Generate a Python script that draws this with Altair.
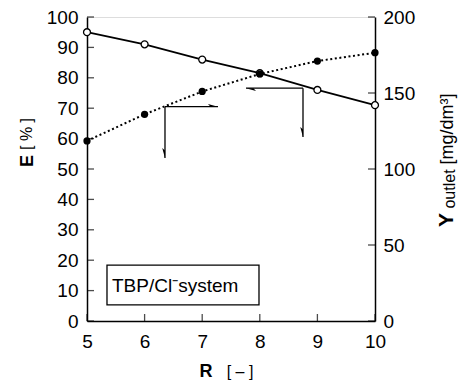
import altair as alt
import pandas as pd

# ---- data ----
R = [5, 6, 7, 8, 9, 10]
E = [95, 91, 86, 81.5, 76, 71]              # E [%], left axis, open circles
Y_out = [118.5, 136, 151, 162.5, 171, 176.5]  # Y_outlet [mg/dm3], right axis, filled circles

x_ticks = [5, 6, 7, 8, 9, 10]
left_ticks = [0, 10, 20, 30, 40, 50, 60, 70, 80, 90, 100]
right_ticks = [0, 50, 100, 150, 200]

# arrow segments (data coords on left axis)
arr_x = [6.354, 6.354, 8.75, 8.75]
arr_x2 = [7.274, 6.354, 7.76, 8.75]
arr_y = [70.5, 70.5, 76.6, 76.6]
arr_y2 = [70.5, 53.6, 76.6, 60.5]

head_x = [7.274, 6.354, 7.76, 8.75]
head_y = [70.5, 53.6, 76.6, 60.5]
head_angle = [0, 90, 180, 90]
SHAPE_A = "M0,0 L-2,-0.55 L-1.5,0 Z"
SHAPE_B = "M0,0 L-2,0.55 L-1.5,0 Z"
head_shape = [SHAPE_A, SHAPE_B, SHAPE_A, SHAPE_B]

box_x, box_x2, box_y, box_y2 = [5.347], [7.986], [5.3], [18.4]
box_label = ["TBP/Cl\u207bsystem"]
box_tx, box_ty = [5.434], [9.5]

FONT = "Liberation Sans"
W, H = 288, 304

df = pd.DataFrame({"R": R, "E": E, "Y": Y_out})
arrows = pd.DataFrame({"x": arr_x, "x2": arr_x2, "y": arr_y, "y2": arr_y2})
heads = pd.DataFrame({"x": head_x, "y": head_y, "a": head_angle, "s": head_shape})
box = pd.DataFrame({"x": box_x, "x2": box_x2, "y": box_y, "y2": box_y2})
boxt = pd.DataFrame({"x": box_tx, "y": box_ty, "t": box_label})
xt = pd.DataFrame({"v": x_ticks})
lt = pd.DataFrame({"v": left_ticks})
rt = pd.DataFrame({"v": right_ticks})
one = pd.DataFrame({"k": [0]})

xscale = alt.Scale(domain=[5, 10], nice=False)
lscale = alt.Scale(domain=[0, 100], nice=False)
rscale = alt.Scale(domain=[0, 200], nice=False)

xaxis = alt.Axis(values=x_ticks, ticks=False, labelPadding=11, labelFontSize=19,
                 labelFont=FONT, labelColor="black", domainColor="black",
                 domainWidth=1.5, grid=False, title=None, labelFlush=False)
laxis = alt.Axis(orient="left", values=left_ticks, ticks=False, labelPadding=9,
                 labelFontSize=19, labelFont=FONT, labelColor="black",
                 domainColor="black", domainWidth=1.5, grid=False, title=None)
raxis = alt.Axis(orient="right", values=right_ticks, ticks=False, labelPadding=8,
                 labelFontSize=19, labelFont=FONT, labelColor="black",
                 domainColor="black", domainWidth=1.5, grid=False, title=None)


def X(f):
    return alt.X(f, type="quantitative", scale=xscale, axis=xaxis)


def YL(f):
    return alt.Y(f, type="quantitative", scale=lscale, axis=laxis)


def YR(f):
    return alt.Y(f, type="quantitative", scale=rscale, axis=raxis)


e_line = alt.Chart(df).mark_line(color="black", strokeWidth=1.8).encode(x=X("R"), y=YL("E"))
e_pts = alt.Chart(df).mark_point(shape="circle", size=48, filled=True, fill="white",
                                 stroke="black", strokeWidth=1.3, opacity=1).encode(x=X("R"), y=YL("E"))

arr = alt.Chart(arrows).mark_rule(color="black", strokeWidth=1.3).encode(
    x=X("x"), x2="x2", y=YL("y"), y2="y2")
hd = alt.Chart(heads).mark_point(filled=True, color="black", size=100, opacity=1).encode(
    x=X("x"), y=YL("y"),
    shape=alt.Shape("s:N", scale=None),
    angle=alt.Angle("a:Q", scale=None))

bx = alt.Chart(box).mark_rect(fill="white", stroke="black", strokeWidth=1.3).encode(
    x=X("x"), x2="x2", y=YL("y"), y2="y2")
bxt = alt.Chart(boxt).mark_text(align="left", baseline="alphabetic", fontSize=19,
                                font=FONT, color="black").encode(
    x=X("x"), y=YL("y"), text="t:N")

lticks = alt.Chart(lt).mark_tick(color="black", size=7, thickness=1.3).encode(
    y=YL("v"), x=alt.value(3.5))
xticks = alt.Chart(xt).mark_tick(color="black", size=7, thickness=1.3).encode(
    x=X("v"), y=alt.value(H - 3.5))


def txt(s, x, y, size, bold=False, angle=0, align="center", baseline="alphabetic"):
    return alt.Chart(one).mark_text(text=s, fontSize=size, font=FONT,
                                    fontWeight="bold" if bold else "normal",
                                    angle=angle, align=align, baseline=baseline,
                                    color="black").encode(x=alt.value(x), y=alt.value(y))


titles = [
    txt("E", -54, 144, 18, bold=True, angle=270),
    txt("[ % ]", -55, 117, 16, angle=270),
    txt("R", 119, 360, 18, bold=True),
    txt("[ \u2013 ]", 153, 360, 16),
    txt("Y", 366, 203, 21, bold=True, angle=270),
    txt("outlet", 368, 172, 16, angle=270),
    txt("[mg/dm\u00b3]", 366, 112, 18, angle=270),
]

left = alt.layer(bx, bxt, arr, hd, e_line, e_pts, lticks, xticks, *titles)

y_line = alt.Chart(df).mark_line(color="black", strokeWidth=2, strokeDash=[2, 2.6]).encode(
    x=X("R"), y=YR("Y"))
y_pts = alt.Chart(df).mark_point(shape="circle", size=52, filled=True, color="black",
                                 opacity=1).encode(x=X("R"), y=YR("Y"))
rticks = alt.Chart(rt).mark_tick(color="black", size=7, thickness=1.3).encode(
    y=YR("v"), x=alt.value(W - 3.5))
right = alt.layer(y_line, y_pts, rticks)

chart = alt.layer(left, right).resolve_scale(y="independent").properties(
    width=W, height=H,
    autosize=alt.AutoSizeParams(type="none"),
    padding={"left": 79, "top": 9, "right": 83, "bottom": 59},
).configure_view(stroke="black", strokeWidth=1.5).configure(background="white")

chart.save("out.html", embed_options={"renderer": "svg", "actions": False})
